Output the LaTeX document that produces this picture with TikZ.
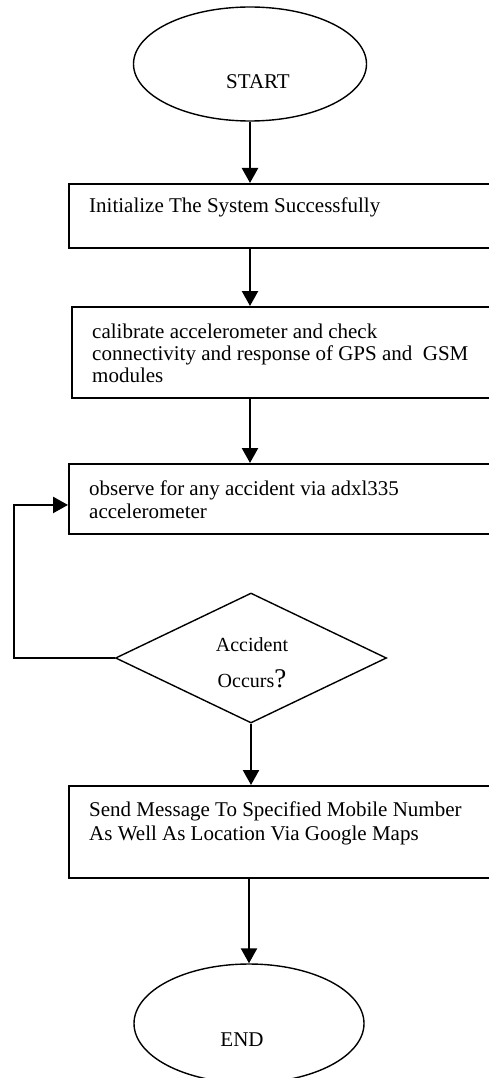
\documentclass[tikz,border=0pt]{standalone}
\usepackage{fontspec}
\setmainfont{Liberation Serif}
\usetikzlibrary{shapes.geometric,arrows.meta,calc}
\tikzset{
  term/.style={draw, ellipse, line width=1.4pt, inner sep=0pt},
  procbox/.style={draw, rectangle, line width=1.6pt, anchor=north west, inner sep=0pt, minimum width=440pt},
  decision/.style={draw, diamond, line width=1.4pt, inner sep=0pt},
  flow/.style={line width=2.4pt, -{Triangle[length=15pt,width=16pt]}},
  txt/.style={inner sep=0pt, font=\fontsize{21}{23}\selectfont, align=left, anchor=base west},
  dtxt/.style={inner sep=0pt, font=\fontsize{20}{22}\selectfont, anchor=base},
}
\begin{document}
\begin{tikzpicture}[x=1pt,y=-1pt]
\useasboundingbox (0,0) rectangle (489,1078);
\clip (0,0) rectangle (489,1078);

% terminals
\node[term, minimum width=233pt, minimum height=114pt] (start) at (250,64) {};
\node[txt, anchor=base] (startlbl) at (258,89) {START};

\node[term, minimum width=230pt, minimum height=119pt] (end) at (249,1023.5) {};
\node[txt, anchor=base] (endlbl) at (242,1046) {END};

% process boxes (multi-line text: base anchor = last line baseline)
\node[procbox, minimum height=64pt] (init) at (68,183) {};
\node[txt] (initlbl) at (89,212) {Initialize The System Successfully};

\node[procbox, minimum height=91pt] (calib) at (71,306) {};
\node[txt, font=\fontsize{21}{22}\selectfont] (caliblbl) at (92,382) {calibrate accelerometer and check\\connectivity and response of GPS and\ \ GSM\\modules};

\node[procbox, minimum height=70pt] (observe) at (68,463) {};
\node[txt, font=\fontsize{21}{22.5}\selectfont] (observelbl) at (89,518) {observe for any accident via adxl335\\accelerometer};

\node[procbox, minimum height=92pt] (send) at (68,785) {};
\node[txt, font=\fontsize{21}{24}\selectfont] (sendlbl) at (89,840) {Send Message To Specified Mobile Number\\As Well As Location Via Google Maps};

% decision
\node[decision, minimum width=271pt, minimum height=130pt] (dec) at (251,658) {};
\node[dtxt] (declbl1) at (252,651) {Accident};
\node[dtxt] (declbl2) at (252,687) {Occurs{\fontsize{27}{28}\selectfont ?}};

% connectors
\draw[flow] (start.south) -- (start.south |- init.north);
\draw[flow] (init.south -| start.south) -- (calib.north -| start.south);
\draw[flow] (calib.south -| start.south) -- (observe.north -| start.south);
\draw[flow] (dec.south) -- (dec.south |- send.north);
\draw[flow] (send.south -| end.north) -- (end.north);

\coordinate (loopx) at (14,0);
\coordinate (loopin) at ($(observe.north west)!0.586!(observe.south west)$);
\draw[flow] (dec.west) -- (dec.west -| loopx) |- (loopin);
\end{tikzpicture}
\end{document}
